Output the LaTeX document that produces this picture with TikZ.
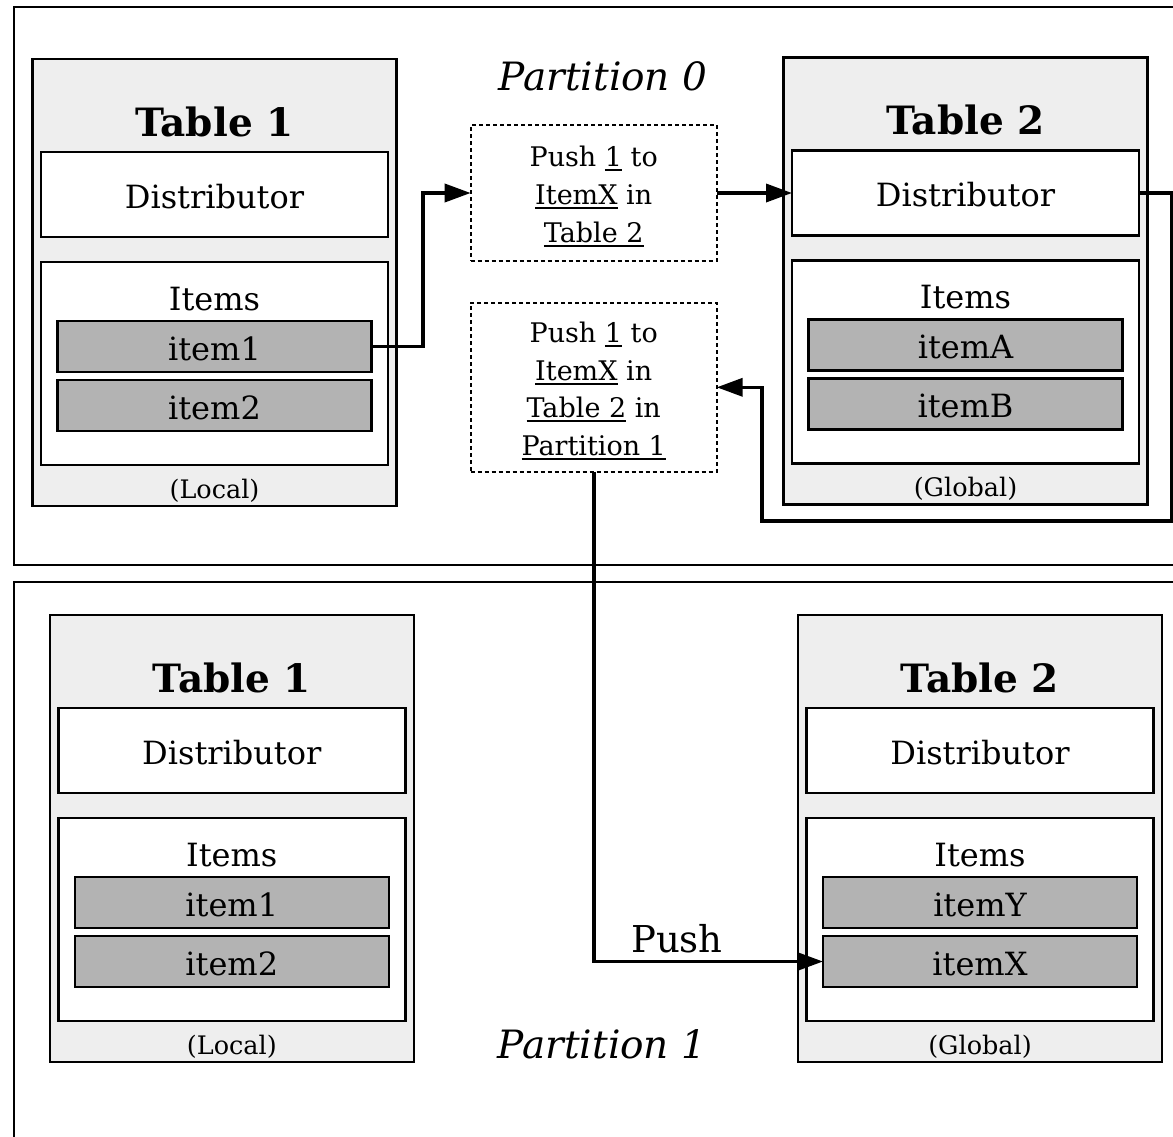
\documentclass[tikz,border=0pt]{standalone}
\usepackage{fontspec}
\setmainfont{DejaVu Serif}
\usetikzlibrary{arrows.meta}
\definecolor{tblfill}{HTML}{EEEEEE}
\definecolor{itemfill}{HTML}{B3B3B3}
\newcommand\ulin[1]{\setbox0\hbox{#1}\rlap{\rule[-4.5pt]{\wd0}{1.6pt}}\box0\relax}
\tikzset{
  frame/.style={line width=2.4pt},
  tbl/.style={draw, fill=tblfill, line width=2.2pt, inner sep=0pt, outer sep=0pt, minimum width=364pt, minimum height=447pt},
  distbox/.style={draw, fill=white, line width=2.4pt, inner sep=0pt, outer sep=0pt, minimum width=347pt, minimum height=85pt},
  itemsbox/.style={draw, fill=white, line width=2.4pt, inner sep=0pt, outer sep=0pt, minimum width=347pt, minimum height=203pt},
  itembox/.style={draw, fill=itemfill, line width=2.4pt, inner sep=0pt, outer sep=0pt, minimum width=314pt, minimum height=51pt},
  dashbox/.style={draw, dash pattern=on 4pt off 3pt, line width=2pt, inner sep=0pt, outer sep=0pt, minimum width=246pt},
  arr/.style={line width=3.6pt, -{Triangle[length=26pt,width=18pt]}},
  ttl/.style={font=\fontsize{39}{46}\selectfont\bfseries, anchor=base, inner sep=0pt},
  txt/.style={font=\fontsize{32}{38}\selectfont, anchor=base, inner sep=0pt},
  smalltxt/.style={font=\fontsize{25.5}{30}\selectfont, anchor=base, inner sep=0pt},
  dtxt/.style={font=\fontsize{27}{32}\selectfont, anchor=base, inner sep=0pt},
  parttxt/.style={font=\fontsize{39}{46}\selectfont\itshape, anchor=base, inner sep=0pt},
  pushtxt/.style={font=\fontsize{37}{44}\selectfont, anchor=base, inner sep=0pt},
}
\newcommand\mktable[7]{%
  \node[tbl] (#1) at (#2,{#3+223.5}) {};
  \node[distbox] (#1d) at (#2,{#3+135.5}) {};
  \node[itemsbox] (#1i) at (#2,{#3+304.5}) {};
  \node[itembox] (#1a) at (#2,{#3+287.5}) {};
  \node[itembox] (#1b) at (#2,{#3+346.5}) {};
  \node[ttl] (#1t) at (#2,{#3+77}) {#4};
  \node[txt] (#1dt) at (#2,{#3+149}) {Distributor};
  \node[txt] (#1it) at (#2,{#3+251}) {Items};
  \node[txt] (#1at) at (#2,{#3+301}) {#5};
  \node[txt] (#1bt) at (#2,{#3+360}) {#6};
  \node[smalltxt] (#1ft) at (#2,{#3+439}) {#7};
}
\begin{document}
\begin{tikzpicture}[x=1pt,y=-1pt]
\useasboundingbox (0,0) rectangle (1173,1136);
% partition frames
\draw[frame] (1190,7) -- (14,7) -- (14,565) -- (1190,565);
\draw[frame] (1190,582) -- (14,582) -- (14,1150);
% tables
\mktable{POL}{214.5}{59}{Table 1}{item1}{item2}{(Local)}
\mktable{POG}{965.5}{57.5}{Table 2}{itemA}{itemB}{(Global)}
\mktable{PIL}{231.8}{615}{Table 1}{item1}{item2}{(Local)}
\mktable{PIG}{980}{615}{Table 2}{itemY}{itemX}{(Global)}
% partition labels
\node[parttxt] (pl0) at (603,90) {Partition 0};
\node[parttxt] (pl1) at (602,1058) {Partition 1};
% dashed message boxes
\node[dashbox, minimum height=136pt] (d1) at (593.7,193) {};
\node[dtxt] (d1a) at (593.7,166) {Push \ulin{1} to};
\node[dtxt] (d1b) at (593.7,204) {\ulin{ItemX} in};
\node[dtxt] (d1c) at (593.7,242) {\ulin{Table 2}};
\node[dashbox, minimum height=169.3pt] (d2) at (593.7,387.3) {};
\node[dtxt] (d2a) at (593.7,342) {Push \ulin{1} to};
\node[dtxt] (d2b) at (593.7,380) {\ulin{ItemX} in};
\node[dtxt] (d2c) at (593.7,417) {\ulin{Table 2} in};
\node[dtxt] (d2d) at (593.7,455) {\ulin{Partition 1}};
% connectors
\coordinate (c1) at (423,0);
\coordinate (c2) at (1172,521);
\coordinate (c3) at (762,521);
\draw[arr] (POLa.east) -- (POLa.east -| c1) |- (d1.west);
\draw[arr] (d1.east) -- (POGd.west);
\draw[arr] (POGd.east) -| (c2) -- (c3) |- (d2.east);
\node[pushtxt] (pushl) at (677,952) {Push};
\draw[arr] (d2.south) |- (PIGb.west);
\end{tikzpicture}
\end{document}
